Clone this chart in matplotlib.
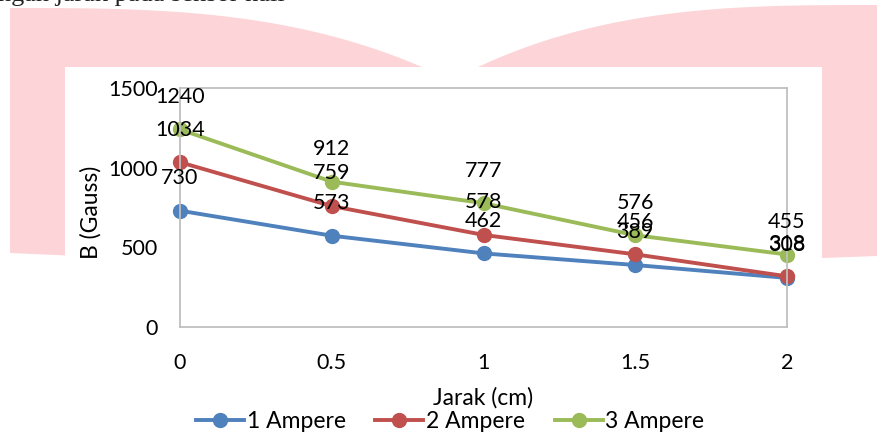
import matplotlib.pyplot as plt
from matplotlib.patches import Polygon, Rectangle
import numpy as np

# data
jarak = [0, 0.5, 1, 1.5, 2]
ampere1 = [730, 573, 462, 389, 308]
ampere2 = [1034, 759, 578, 456, 318]
ampere3 = [1240, 912, 777, 576, 455]
names = ["1 Ampere", "2 Ampere", "3 Ampere"]
colors = ["#4F81BD", "#C0504D", "#9BBB59"]

plt.rcParams['font.family'] = ['Lato', 'DejaVu Sans']

W, H = 877, 434
fig = plt.figure(figsize=(W / 100, H / 100), dpi=100)

# background watermark (pixel coords, y down)
bg = fig.add_axes([0, 0, 1, 1])
bg.set_xlim(0, W)
bg.set_ylim(H, 0)
bg.axis('off')
xl = np.linspace(10, 422, 60)
top_l = 8 + 59 * ((xl - 10) / 412) ** 3
xr = np.linspace(478, 877, 60)
top_r = 5 + 62 * ((877 - xr) / 399) ** 3
pts = ([(10, 253)] + list(zip(xl, top_l)) + list(zip(xr, top_r))
       + [(877, 256), (440, 272)])
bg.add_patch(Polygon(pts, closed=True, color="#FDD5D8", lw=0))
bg.add_patch(Rectangle((65, 67), 757, 367, color="white", lw=0))
bg.text(-2, 1, "ngan jarak pada sensor hall", family="Liberation Serif", fontsize=19,
        va="baseline", ha="left", color="#222222")

# chart
ax = fig.add_axes([180 / W, 1 - 327 / H, 607 / W, 239 / H])
for ys, c, n in zip([ampere1, ampere2, ampere3], colors, names):
    ax.plot(jarak, ys, "-o", color=c, lw=2.8, ms=10, label=n)
    for x, y in zip(jarak, ys):
        ax.annotate(str(y), (x, y), xytext=(0, 23.5), textcoords="offset points",
                    ha="center", va="center", fontsize=15.5)

ax.set_xlim(0, 2)
ax.set_ylim(0, 1500)
ax.set_xticks(jarak)
ax.set_xticklabels(["0", "0.5", "1", "1.5", "2"])
ax.set_yticks([0, 500, 1000, 1500])
ax.tick_params(length=0, labelsize=15.5)
ax.tick_params(axis='x', pad=19)
ax.tick_params(axis='y', pad=16)
for s in ax.spines.values():
    s.set_color("#BFBFBF")
    s.set_linewidth(1.3)
ax.set_xlabel("Jarak (cm)", fontsize=16.5, va="center")
ax.xaxis.set_label_coords(0.5, (327 - 398) / 239)
ax.set_ylabel("B (Gauss)", fontsize=16.5, va="center")
ax.yaxis.set_label_coords((91 - 180) / 607, (327 - 212) / 239)
for line in ax.lines:
    line.set_clip_on(False)

h, l = ax.get_legend_handles_labels()
fig.legend(h, l, loc="center", bbox_to_anchor=(450 / W, 1 - 422 / H), ncol=3,
           frameon=False, fontsize=16.5, handlelength=2.1, columnspacing=1.3,
           handletextpad=0.1, borderaxespad=0, borderpad=0)

fig.savefig("out.png", dpi=100)
